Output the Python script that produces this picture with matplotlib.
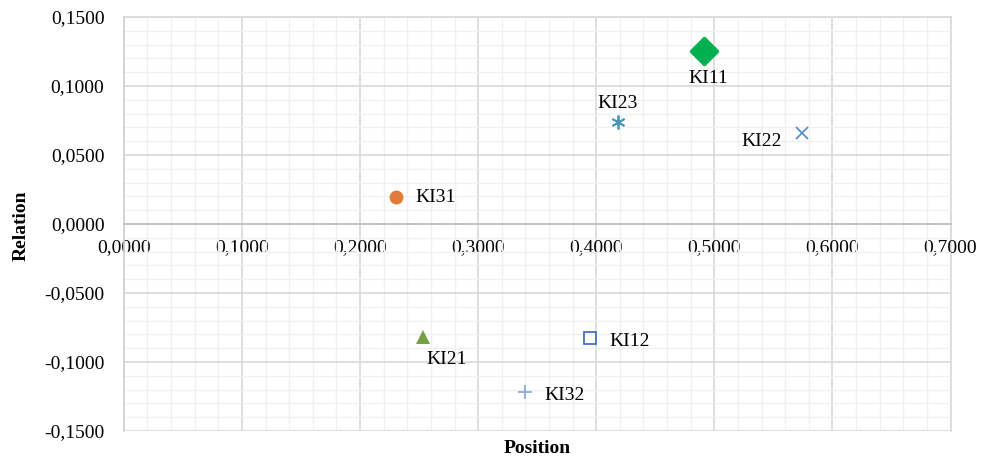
import matplotlib
matplotlib.use("Agg")
import matplotlib.pyplot as plt
from matplotlib.markers import MarkerStyle
from matplotlib.ticker import MultipleLocator, FuncFormatter

names = ["KI11", "KI23", "KI22", "KI31", "KI21", "KI12", "KI32"]
position = [0.4915, 0.418, 0.574, 0.2302, 0.2537, 0.3943, 0.3398]
relation = [0.1256, 0.0741, 0.0662, 0.0193, -0.0822, -0.0824, -0.1215]

styles = {
    "KI11": dict(marker=MarkerStyle("D", joinstyle="round"), color="#00B050", ms=13, mfc="#00B050", mew=2.5, off=(3, -20), ha="center"),
    "KI23": dict(marker=(6, 2, 0), color="#4A96B8", ms=10, mfc="none", mew=1.3, off=(0, 13), ha="center"),
    "KI22": dict(marker="x", color="#5B8FD0", ms=9, mfc="none", mew=1.3, off=(-14, -6), ha="right"),
    "KI31": dict(marker="o", color="#E07B39", ms=10, mfc="#E07B39", mew=0, off=(14, 0), ha="left"),
    "KI21": dict(marker="^", color="#76A044", ms=10, mfc="#76A044", mew=0, off=(2, -16), ha="left"),
    "KI12": dict(marker="s", color="#4472C4", ms=9, mfc="none", mew=1.3, off=(14, -3), ha="left"),
    "KI32": dict(marker="+", color="#8FAADC", ms=10, mfc="none", mew=1.3, off=(14, -3), ha="left"),
}

plt.rcParams['font.family'] = ['Liberation Serif', 'DejaVu Serif']

fig = plt.figure(figsize=(9.83, 4.61), dpi=100)
ax = fig.add_axes([0.126, 0.065, 0.841, 0.898])

for n, x, y in zip(names, position, relation):
    s = styles[n]
    ax.plot([x], [y], linestyle="none", marker=s["marker"], color=s["color"],
            markersize=s["ms"], markerfacecolor=s["mfc"], markeredgewidth=s["mew"],
            markeredgecolor=s["color"], zorder=5)
    ax.annotate(n, (x, y), xytext=s["off"], textcoords="offset points",
                ha=s["ha"], va="center", fontsize=14, color="black", zorder=6)

ax.set_xlim(0, 0.7)
ax.set_ylim(-0.15, 0.15)
ax.xaxis.set_major_locator(MultipleLocator(0.1))
ax.xaxis.set_minor_locator(MultipleLocator(0.02))
ax.yaxis.set_major_locator(MultipleLocator(0.05))
ax.yaxis.set_minor_locator(MultipleLocator(0.01))
fmt = FuncFormatter(lambda v, p: f"{v:.4f}".replace(".", ",") if abs(v) > 1e-9 else "0,0000")
ax.xaxis.set_major_formatter(fmt)
ax.yaxis.set_major_formatter(fmt)

ax.grid(which="major", color="#D9D9D9", linewidth=1.2, zorder=0)
ax.grid(which="minor", color="#F0F0F0", linewidth=1.0, zorder=0)
ax.set_axisbelow(True)

ax.spines['bottom'].set_position(('data', 0))
ax.spines['bottom'].set_color("#BFBFBF")
ax.spines['left'].set_color("#D0D0D0")
ax.spines['top'].set_color("#D9D9D9")
ax.spines['right'].set_color("#D9D9D9")
for sp in ax.spines.values():
    sp.set_linewidth(1.2)
ax.spines['top'].set_zorder(0)
ax.spines['right'].set_zorder(0)

ax.tick_params(axis="both", which="both", length=0, labelsize=14)
ax.tick_params(axis="y", pad=14)
ax.tick_params(axis="x", pad=11)

fig.text(0.546, 0.028, "Position", ha="center", va="center", fontsize=14, fontweight="bold")
fig.text(0.021, 0.51, "Relation", ha="center", va="center", fontsize=14, fontweight="bold", rotation=90)

fig.savefig("out.png", dpi=100)
